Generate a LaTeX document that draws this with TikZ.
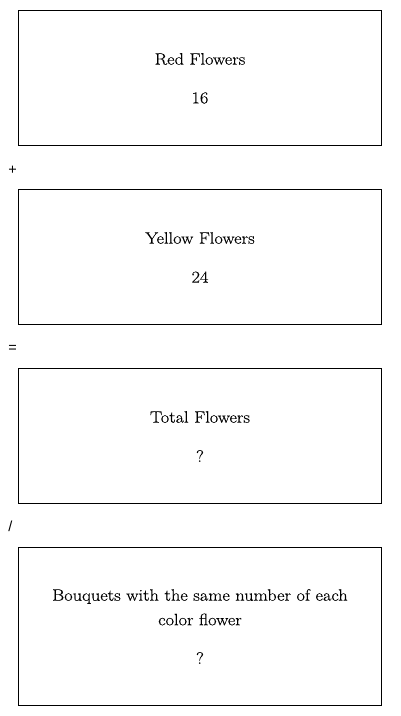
\documentclass[tikz,border=0pt]{standalone}
\usepackage{fontspec}
\newfontfamily\opfont{Liberation Sans}
\newfontfamily\txtfont{Latin Modern Roman}[FakeStretch=1.11,FakeBold=0.3]
\begin{document}
\begin{tikzpicture}[x=1pt,y=-1pt,
  box/.style={draw=black,line width=1pt,inner sep=0pt,anchor=north west},
  lbl/.style={font=\txtfont\fontsize{16.5}{19}\selectfont,inner sep=0pt,align=center},
  op/.style={font=\opfont\fontsize{14.5}{16}\selectfont,inner sep=0pt}]
\useasboundingbox (0,0) rectangle (400,716);
\node[box,minimum width=363pt,minimum height=135pt] (b1) at (18,10) {};
\node[box,minimum width=363pt,minimum height=135pt] (b2) at (18,189) {};
\node[box,minimum width=363pt,minimum height=135pt] (b3) at (18,368) {};
\node[box,minimum width=363pt,minimum height=158pt] (b4) at (18,547) {};
\node[lbl] (t1) at (200,59) {Red Flowers};
\node[lbl] (v1) at (200,98) {16};
\node[lbl] (t2) at (200,238) {Yellow Flowers};
\node[lbl] (v2) at (200,277) {24};
\node[lbl] (t3) at (200,417) {Total Flowers};
\node[lbl] (v3) at (200,456) {?};
\node[lbl] (t4a) at (200,596.5) {Bouquets with the same number of each};
\node[lbl] (t4b) at (200,619.5) {color flower};
\node[lbl] (v4) at (200,658) {?};
\node[op] (plus) at (12.5,170) {+};
\node[op] (eq) at (12.5,349) {=};
\node[op] (div) at (10.5,526) {/};
\end{tikzpicture}
\end{document}
